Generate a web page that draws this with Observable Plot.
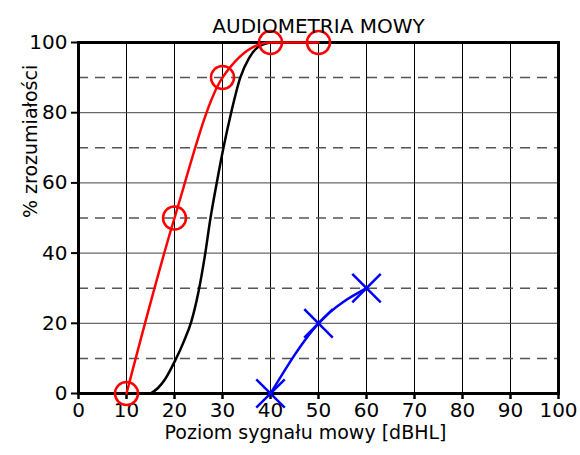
<!DOCTYPE html>
<html><head><meta charset="utf-8">
<script src="https://cdn.jsdelivr.net/npm/d3@7"></script>
<script src="https://cdn.jsdelivr.net/npm/@observablehq/plot@0.6"></script>
<style>body{margin:0;background:#fff} svg{font-family:"DejaVu Sans"}</style>
</head><body><div id="chart"></div>
<script>
const title = "AUDIOMETRIA MOWY";
const xLabel = "Poziom sygnału mowy [dBHL]";
const yLabel = "% zrozumiałości";
const xTicks = [0,10,20,30,40,50,60,70,80,90,100];
const yTicks = [0,20,40,60,80,100];
const solidY = [20,40,60,80];
const dashedY = [10,30,50,70,90];
const redX = [10,20,30,40,50];
const redY = [0,50,90,100,100];
const blueX = [40,50,60];
const blueY = [0,20,30];
const normX = [15,16.5,18,20,22,23.5,25,26.3,27.5,28.8,30.2,31.8,33.7,35.5,37.5,40];
const normY = [0,1.5,4,9,15,20.5,29,39,50,60,70,80,90,95.5,98.8,100];

const red = redX.map((x,i)=>({x, y:redY[i]}));
const blue = blueX.map((x,i)=>({x, y:blueY[i]}));
const norm = normX.map((x,i)=>({x, y:normY[i]}));

const chart = Plot.plot({
  width:580, height:455,
  marginLeft:78, marginRight:22, marginTop:42, marginBottom:62,
  x:{domain:[0,100]}, y:{domain:[0,100]},
  style:{fontFamily:"DejaVu Sans", fontSize:"20px", background:"white", overflow:"visible"},
  marks:[
    Plot.ruleX(xTicks.slice(1,-1), {stroke:"black", strokeWidth:1}),
    Plot.ruleY(solidY, {stroke:"#444", strokeWidth:1}),
    Plot.ruleY(dashedY, {stroke:"#555", strokeWidth:1.5, strokeDasharray:"10,7"}),
    Plot.axisX(xTicks, {tickSize:6, tickPadding:3, fontSize:20, label:null, strokeWidth:2.5, color:"black"}),
    Plot.axisY(yTicks, {tickSize:7, tickPadding:4, fontSize:20, label:null, strokeWidth:2, color:"black"}),
    Plot.frame({stroke:"black", strokeWidth:3}),
    Plot.line(norm, {x:"x", y:"y", stroke:"black", strokeWidth:2.5, curve:"monotone-x"}),
    Plot.line(red, {x:"x", y:"y", stroke:"#ff0000", strokeWidth:2.5, curve:"monotone-x"}),
    Plot.dot(red, {x:"x", y:"y", r:11.5, stroke:"#ff0000", strokeWidth:2.5, fill:"none"}),
    Plot.line(blue, {x:"x", y:"y", stroke:"#0000ff", strokeWidth:2.5, curve:"monotone-x"}),
    Plot.dot(blue, {x:"x", y:"y", r:13, symbol:"times", stroke:"#0000ff", strokeWidth:2.5}),
    Plot.text([title], {frameAnchor:"top", dy:-24, fontSize:20, fill:"black"}),
    Plot.text([xLabel], {frameAnchor:"bottom", dy:45, dx:-13, fontSize:19, fill:"black"}),
    Plot.text([yLabel], {frameAnchor:"left", rotate:-90, dx:-48, fontSize:19, fill:"black"})
  ]
});
document.getElementById("chart").append(chart);
</script></body></html>
